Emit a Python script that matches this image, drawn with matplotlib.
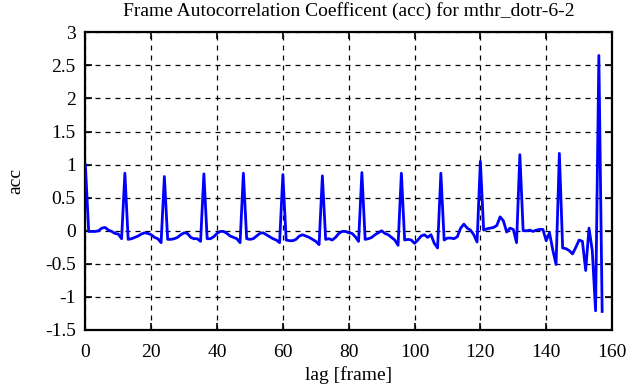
import matplotlib
matplotlib.use("Agg")
import matplotlib.pyplot as plt
from matplotlib.ticker import FuncFormatter

acc = [
    1.00, -0.01, -0.01, -0.01, 0.00, 0.04, 0.05, 0.01, -0.01, -0.04,   # 0-9
    -0.05, -0.12, 0.87, -0.13, -0.12, -0.10, -0.08, -0.05, -0.03, -0.04,  # 10-19
    -0.06, -0.10, -0.12, -0.18, 0.82, -0.13, -0.13, -0.12, -0.10, -0.06,  # 20-29
    -0.03, -0.04, -0.10, -0.12, -0.12, -0.16, 0.86, -0.12, -0.12, -0.09,  # 30-39
    -0.04, -0.01, -0.01, -0.04, -0.08, -0.10, -0.12, -0.18, 0.87, -0.12,  # 40-49
    -0.13, -0.12, -0.08, -0.04, -0.03, -0.06, -0.09, -0.12, -0.14, -0.18,  # 50-59
    0.85, -0.14, -0.15, -0.15, -0.13, -0.08, -0.06, -0.08, -0.10, -0.13,  # 60-69
    -0.16, -0.21, 0.83, -0.13, -0.12, -0.14, -0.10, -0.04, -0.01, -0.01,  # 70-79
    -0.03, -0.04, -0.09, -0.16, 0.88, -0.13, -0.12, -0.10, -0.06, -0.03,  # 80-89
    0.00, -0.04, -0.06, -0.10, -0.14, -0.22, 0.87, -0.14, -0.13, -0.14,  # 90-99
    -0.19, -0.14, -0.08, -0.06, -0.10, -0.06, -0.19, -0.26, 0.87, -0.14,  # 100-109
    -0.11, -0.11, -0.12, -0.09, 0.04, 0.10, 0.04, 0.01, -0.06, -0.17,  # 110-119
    1.05, 0.01, 0.03, 0.04, 0.05, 0.08, 0.21, 0.15, -0.02, 0.04,  # 120-129
    0.02, -0.18, 1.15, 0.00, 0.00, 0.01, -0.01, 0.01, 0.02, 0.02,  # 130-139
    -0.15, -0.03, -0.29, -0.51, 1.17, -0.26, -0.27, -0.30, -0.35, -0.25,  # 140-149
    -0.14, -0.16, -0.60, 0.04, -0.30, -1.21, 2.65, -1.22,  # 150-157
]
lags = list(range(len(acc)))

x_ticks = [0, 20, 40, 60, 80, 100, 120, 140, 160]
y_ticks = [-1.5, -1, -0.5, 0, 0.5, 1, 1.5, 2, 2.5, 3]

plt.rcParams['font.family'] = ['Liberation Serif', 'DejaVu Serif']

fig = plt.figure(figsize=(6.41, 3.87), dpi=100)
ax = fig.add_axes([0.1332, 0.1473, 0.9548 - 0.1332, 0.9165 - 0.1473])

ax.plot(lags, acc, color='#0000ff', linewidth=2.0, zorder=3)

ax.set_xlim(0, 160)
ax.set_ylim(-1.5, 3)
ax.set_xticks(x_ticks)
ax.set_yticks(y_ticks)

def fmt(v, pos):
    return ('%g' % v).replace('\u2212', '-')
ax.yaxis.set_major_formatter(FuncFormatter(fmt))
ax.xaxis.set_major_formatter(FuncFormatter(fmt))

ax.grid(True, color='black', linestyle=(0, (4, 4)), linewidth=0.9)
ax.tick_params(direction='in', length=5, width=1.2, top=True, right=True,
               labelsize=14, colors='black')
ax.tick_params(axis='y', pad=7)
ax.tick_params(axis='x', pad=10)
for s in ax.spines.values():
    s.set_linewidth(1.6)

ax.set_title('Frame Autocorrelation Coefficent (acc) for mthr_dotr-6-2', fontsize=14, pad=12)
ax.set_xlabel('lag [frame]', fontsize=14, labelpad=4)
ax.set_ylabel('acc', fontsize=14, labelpad=15)

fig.savefig('out.png', dpi=100)
